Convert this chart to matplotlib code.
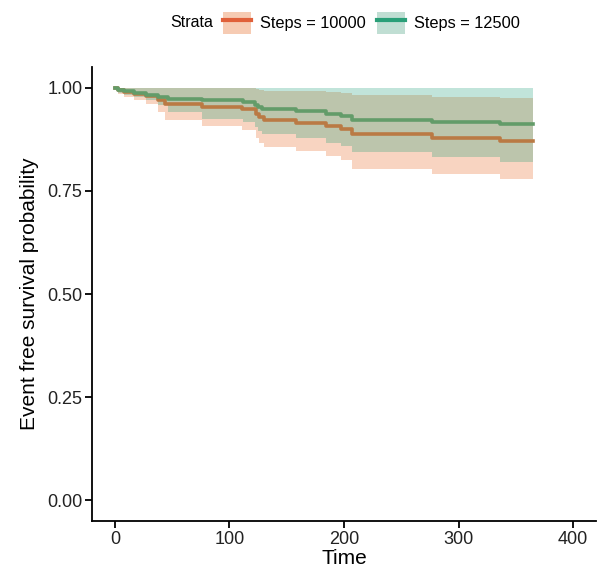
import numpy as np
import matplotlib
matplotlib.use('Agg')
import matplotlib.pyplot as plt
from matplotlib.patches import Patch
from matplotlib.lines import Line2D

plt.rcParams['font.family'] = ['Liberation Sans', 'DejaVu Sans']

t_end = 365
groups = ['Steps = 10000', 'Steps = 12500']

# Steps = 10000
t_a = [0, 3, 8, 17, 27, 38, 44, 76, 111, 123, 126, 130, 158, 184, 197, 207, 277, 336]
s_a = [1.0, 0.994, 0.989, 0.984, 0.979, 0.971, 0.960, 0.953, 0.947, 0.935, 0.928, 0.921,
       0.914, 0.908, 0.900, 0.887, 0.879, 0.871]
lo_a = [1.0, 0.985, 0.977, 0.969, 0.960, 0.941, 0.922, 0.906, 0.898, 0.878, 0.866, 0.855,
        0.846, 0.834, 0.824, 0.802, 0.790, 0.778]
hi_a = [1.0, 1.0, 1.0, 1.0, 1.0, 1.0, 1.0, 0.998, 0.998, 0.996, 0.994, 0.993,
        0.991, 0.989, 0.987, 0.983, 0.978, 0.976]

# Steps = 12500
t_b = [0, 3, 8, 17, 27, 38, 46, 76, 112, 122, 125, 128, 158, 184, 197, 207, 277, 336]
s_b = [1.0, 0.995, 0.992, 0.988, 0.983, 0.977, 0.973, 0.969, 0.964, 0.958, 0.953, 0.949,
       0.943, 0.937, 0.931, 0.922, 0.917, 0.911]
lo_b = [1.0, 0.988, 0.983, 0.977, 0.970, 0.958, 0.941, 0.925, 0.917, 0.905, 0.896, 0.887,
        0.878, 0.867, 0.859, 0.844, 0.832, 0.821]
hi_b = [1.0] * len(t_b)

line_cols = ['#BA7A44', '#639C69']
key_lines = ['#E0603A', '#2A9F78']
key_fills = ['#F6CBB3', '#C0DED3']

fig = plt.figure(figsize=(5.98, 5.74), dpi=100)
ax = fig.add_axes([0.1538, 0.0923, 0.843, 0.791])

series = [(t_a, s_a, lo_a, hi_a), (t_b, s_b, lo_b, hi_b)]
for i, (t, s, lo, hi) in enumerate(series):
    tt = np.array(t + [t_end])
    col = '#F4B899' if i == 0 else '#1B9E77'
    a = 0.6 if i == 0 else 0.27
    ax.fill_between(tt, lo + [lo[-1]], hi + [hi[-1]], step='post', color=col,
                    alpha=a, lw=0, zorder=2 + i)

for i, (t, s, lo, hi) in enumerate(series):
    tt = np.array(t + [t_end])
    ax.step(tt, s + [s[-1]], where='post', color=line_cols[i], lw=2.6, zorder=5)

ax.set_xlim(-20, 420)
ax.set_ylim(-0.05, 1.05)
ax.set_xticks([0, 100, 200, 300, 400])
ax.set_yticks([0, 0.25, 0.5, 0.75, 1.0])
ax.set_yticklabels(['0.00', '0.25', '0.50', '0.75', '1.00'])
for sp in ['top', 'right']:
    ax.spines[sp].set_visible(False)
for sp in ['left', 'bottom']:
    ax.spines[sp].set_linewidth(1.3)
ax.tick_params(axis='both', length=5, width=1.3, labelsize=13, colors='black',
               labelcolor='#222222', pad=2)
ax.set_xlabel('Time', fontsize=15, labelpad=1)
ax.set_ylabel('Event free survival probability', fontsize=15, labelpad=6)

fig.text(170 / 598, 0.960, 'Strata', fontsize=11.5, va='center', ha='left')
handles = [(Patch(facecolor=key_fills[i], edgecolor='none'),
            Line2D([], [], color=key_lines[i], lw=3)) for i in range(2)]
fig.legend(handles, groups, loc='center left', bbox_to_anchor=(223 / 598, 0.960),
           ncol=2, frameon=False, fontsize=11.8, handlelength=1.7, handleheight=1.7,
           handletextpad=0.55, columnspacing=0.7, borderpad=0, borderaxespad=0)

fig.savefig('out.png', dpi=100)
